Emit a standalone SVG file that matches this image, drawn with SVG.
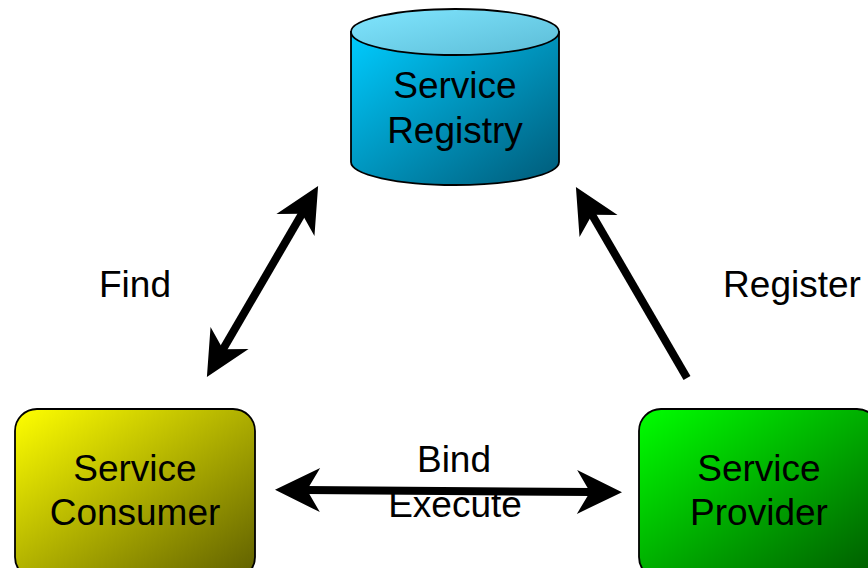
<svg xmlns="http://www.w3.org/2000/svg" width="868" height="568" viewBox="0 0 868 568">
  <style>
    .shape { stroke: #000; stroke-width: 1.8; }
    .label { font-family: "Liberation Sans", Arial, sans-serif; font-size: 37px; fill: #000; text-anchor: middle; }
    .conn { stroke: #000; stroke-width: 8; fill: none; }
  </style>
  <defs>
    <linearGradient id="gBlue" x1="0" y1="0" x2="1" y2="1">
      <stop offset="0" stop-color="#00ccff"/>
      <stop offset="1" stop-color="#005a78"/>
    </linearGradient>
    <linearGradient id="gBlueTop" x1="0" y1="0" x2="1" y2="1">
      <stop offset="0" stop-color="#80e6ff"/>
      <stop offset="1" stop-color="#5cbcd6"/>
    </linearGradient>
    <linearGradient id="gYellow" x1="0" y1="0" x2="1" y2="1">
      <stop offset="0" stop-color="#ffff00"/>
      <stop offset="1" stop-color="#5e5e00"/>
    </linearGradient>
    <linearGradient id="gGreen" x1="0" y1="0" x2="1" y2="1">
      <stop offset="0" stop-color="#00ff00"/>
      <stop offset="1" stop-color="#005800"/>
    </linearGradient>
    <marker id="head" markerUnits="userSpaceOnUse" markerWidth="60" markerHeight="50" viewBox="-20 -25 60 50" refX="0" refY="0" orient="auto-start-reverse">
      <path d="M30,0 L-15,-22 L-2,0 L-15,22 Z" fill="#000"/>
    </marker>
  </defs>

  <!-- registry (cylinder) -->
  <g id="registry">
    <path class="shape" fill="url(#gBlue)" d="M351,32 L351,162 A104,23 0 0 0 559,162 L559,32 Z"/>
    <ellipse class="shape" fill="url(#gBlueTop)" cx="455" cy="32" rx="104" ry="23"/>
    <text class="label" x="455" y="98">Service</text>
    <text class="label" x="455" y="143">Registry</text>
  </g>

  <!-- consumer -->
  <g id="consumer">
    <rect class="shape" fill="url(#gYellow)" x="15" y="409" width="240" height="170" rx="22" ry="22"/>
    <text class="label" x="135" y="481">Service</text>
    <text class="label" x="135" y="525">Consumer</text>
  </g>

  <!-- provider -->
  <g id="provider">
    <rect class="shape" fill="url(#gGreen)" x="639" y="409" width="240" height="170" rx="22" ry="22"/>
    <text class="label" x="759" y="481">Service</text>
    <text class="label" x="759" y="525">Provider</text>
  </g>

  <!-- connectors -->
  <g id="connectors">
    <line class="conn" x1="222" y1="351" x2="303" y2="212" marker-start="url(#head)" marker-end="url(#head)"/>
    <line class="conn" x1="687" y1="378" x2="591" y2="213" marker-end="url(#head)"/>
    <line class="conn" x1="305" y1="490" x2="592" y2="492" marker-start="url(#head)" marker-end="url(#head)"/>
    <text class="label" x="135" y="297">Find</text>
    <text class="label" x="792" y="297">Register</text>
    <text class="label" x="454" y="472">Bind</text>
    <text class="label" x="455" y="517">Execute</text>
  </g>
</svg>
